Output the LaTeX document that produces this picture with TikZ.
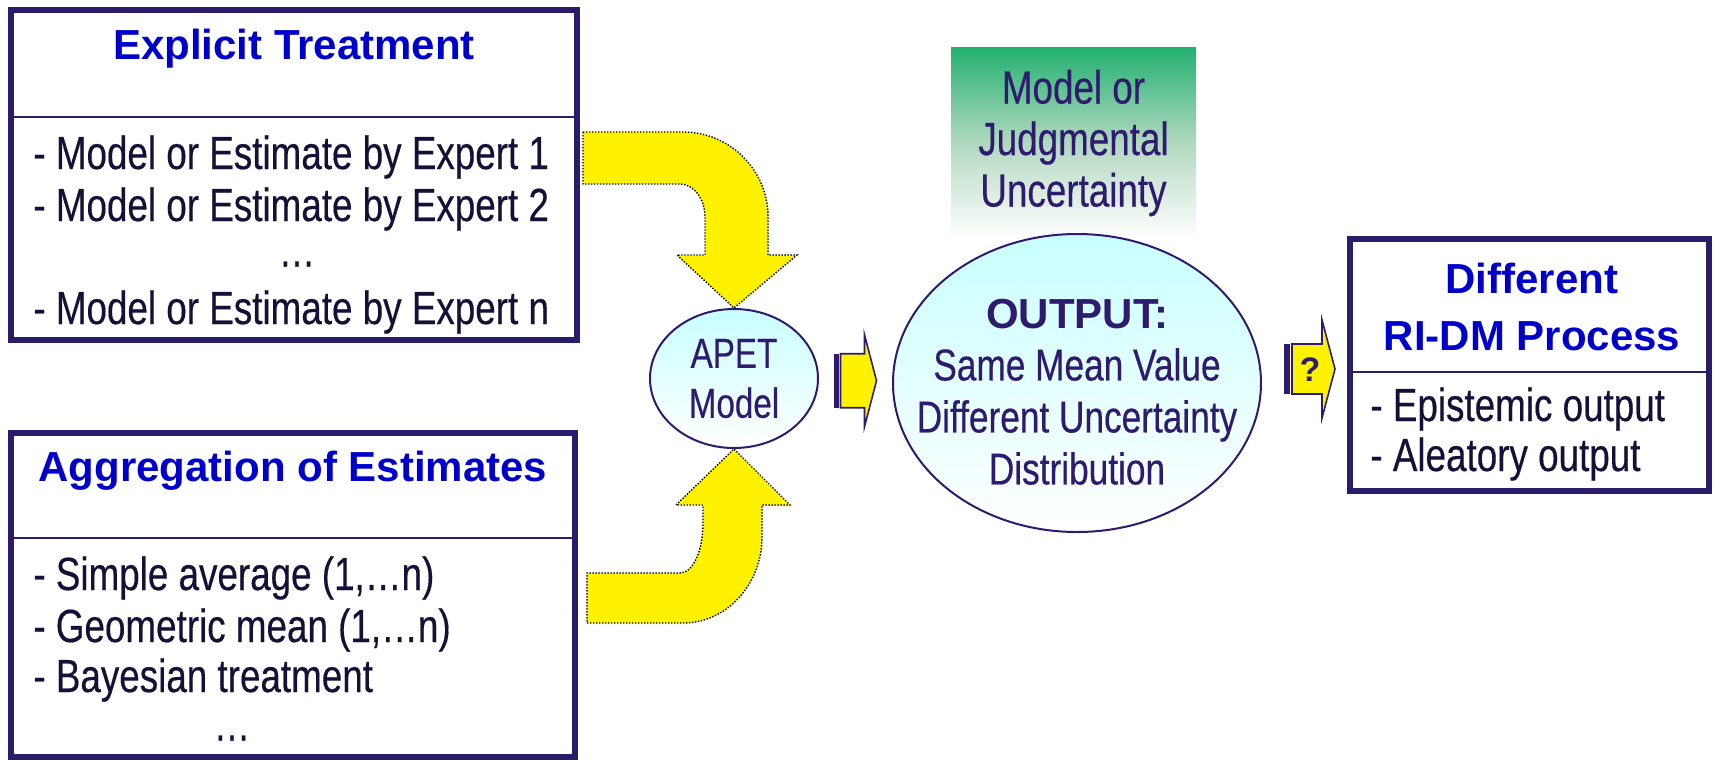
\documentclass[tikz,border=0pt]{standalone}
\usepackage{fontspec}
\setmainfont{Liberation Sans}
\newfontfamily\narrowfont[FakeStretch=0.79,FakeBold=0.35]{Liberation Sans}
\newfontfamily\headfont{Liberation Sans}
\usetikzlibrary{shapes.geometric,calc}
\definecolor{boxline}{RGB}{43,27,107}
\definecolor{titleblue}{RGB}{0,0,204}
\definecolor{itemink}{RGB}{20,16,56}
\definecolor{navyink}{RGB}{46,26,110}
\definecolor{aqua}{RGB}{200,255,255}
\definecolor{uncgreen}{RGB}{34,176,112}
\definecolor{uncmid}{RGB}{178,216,192}

\begin{document}
\begin{tikzpicture}[x=0.5pt,y=-0.5pt,
  frame/.style={draw=boxline,line width=3pt,inner sep=0pt,fill=white},
  divider/.style={draw=boxline,line width=1.25pt},
  title/.style={inner sep=0pt,text=titleblue,align=center,font=\headfont\bfseries\fontsize{21}{28.5}\selectfont},
  item/.style={inner sep=0pt,anchor=west,text=itemink,font=\narrowfont\fontsize{23.3}{26}\selectfont},
  dots/.style={inner sep=0pt,text=itemink,font=\narrowfont\fontsize{23.3}{26}\selectfont},
  bubble/.style={ellipse,draw=navyink,line width=1pt,inner sep=0pt,top color=aqua,bottom color=white},
  bubtext/.style={inner sep=0pt,text=navyink,align=center},
  curlarrow/.style={fill=yellow,draw=black,line width=0.7pt,dash pattern=on 0.7pt off 0.8pt},
  stub/.style={fill=yellow,draw=navyink,line width=0.8pt},
  stripe/.style={fill=navyink}]
\useasboundingbox (0,0) rectangle (1715,762);

\node[frame,minimum width=283pt,minimum height=165pt] (expl) at (294,175) {};
\node[frame,minimum width=282pt,minimum height=162pt] (aggr) at (293,595) {};
\node[frame,minimum width=179.5pt,minimum height=126pt] (ridm) at (1529.5,365) {};
\draw[divider] (11,117) -- (577,117);
\draw[divider] (11,538) -- (575,538);
\draw[divider] (1350,372) -- (1709,372);

\node[title] (explt) at (294,49) {Explicit Treatment};
\node[item] (e1) at (33,157) {- Model or Estimate by Expert 1};
\node[item] (e2) at (33,209) {- Model or Estimate by Expert 2};
\node[dots] (e3) at (297,264) {…};
\node[item] (e4) at (33,312) {- Model or Estimate by Expert n};

\node[title] (aggrt) at (293,471) {Aggregation of Estimates};
\node[item] (a1) at (33,578) {- Simple average (1,…n)};
\node[item] (a2) at (33,630) {- Geometric mean (1,…n)};
\node[item] (a3) at (33,680) {- Bayesian treatment};
\node[dots] (a4) at (232,738) {…};

\node[title] (ridmt) at (1532,307) {Different\\RI-DM Process};
\node[item] (r1) at (1370,409) {- Epistemic output};
\node[item] (r2) at (1370,459) {- Aleatory output};

\node[inner sep=0pt,minimum width=122.5pt,minimum height=96pt,top color=uncgreen,bottom color=white,middle color=uncmid,text=navyink,align=center,font=\narrowfont\fontsize{23.3}{25.75}\selectfont] (unc) at (1073.5,143) {Model or\\Judgmental\\Uncertainty};

\node[bubble,minimum width=84pt,minimum height=69.5pt,text=navyink,align=center,font=\narrowfont\fontsize{21}{25}\selectfont] (apet) at (734,378.5) {APET\\Model};
\node[bubble,minimum width=184pt,minimum height=149pt] (out) at (1077,383) {};
\node[bubtext,font=\narrowfont\fontsize{22.3}{26}\selectfont] (outtxt) at (1077,392) {{\headfont\bfseries\fontsize{21}{26}\selectfont OUTPUT:}\\Same Mean Value\\Different Uncertainty\\Distribution};

\draw[curlarrow] (583,132) -- (683,132) .. controls (730,132) and (768,170) .. (768,217) -- (768,255) -- (797,255) -- (apet.north) -- (677,255) -- (705,255) -- (705,217) .. controls (705,199) and (694,184) .. (680,184) -- (583,184) -- cycle;
\draw[curlarrow] (587,623) -- (683,623) .. controls (727,623) and (762,584) .. (762,537) -- (762,505) -- (790,505) -- (apet.south) -- (676,505) -- (703,505) -- (703,523) .. controls (703,551) and (693,573) .. (680,573) -- (587,573) -- cycle;

\coordinate (s1) at ($(apet.east)!.5!(out.west)$);
\fill[stripe] ([shift={(-22,-27)}]s1) rectangle ([shift={(-17,27)}]s1);
\draw[stub] ([shift={(-15,-27)}]s1) -- ++(24,0) -- ++(0,-19) -- ([shift={(21,0)}]s1) -- ([shift={(9,46)}]s1) -- ++(0,-19) -- ++(-24,0) -- cycle;

\coordinate (s2) at (1310,369);
\fill[stripe] ([shift={(-26,-25)}]s2) rectangle ([shift={(-20,25)}]s2);
\draw[stub] ([shift={(-18,-25)}]s2) -- ++(30,0) -- ++(0,-24) -- ([shift={(25,0)}]s2) -- ([shift={(12,49)}]s2) -- ++(0,-24) -- ++(-30,0) -- cycle;
\node[inner sep=0pt,text=navyink,font=\headfont\bfseries\fontsize{17}{20}\selectfont] (q) at (1310,370) {?};
\end{tikzpicture}
\end{document}
